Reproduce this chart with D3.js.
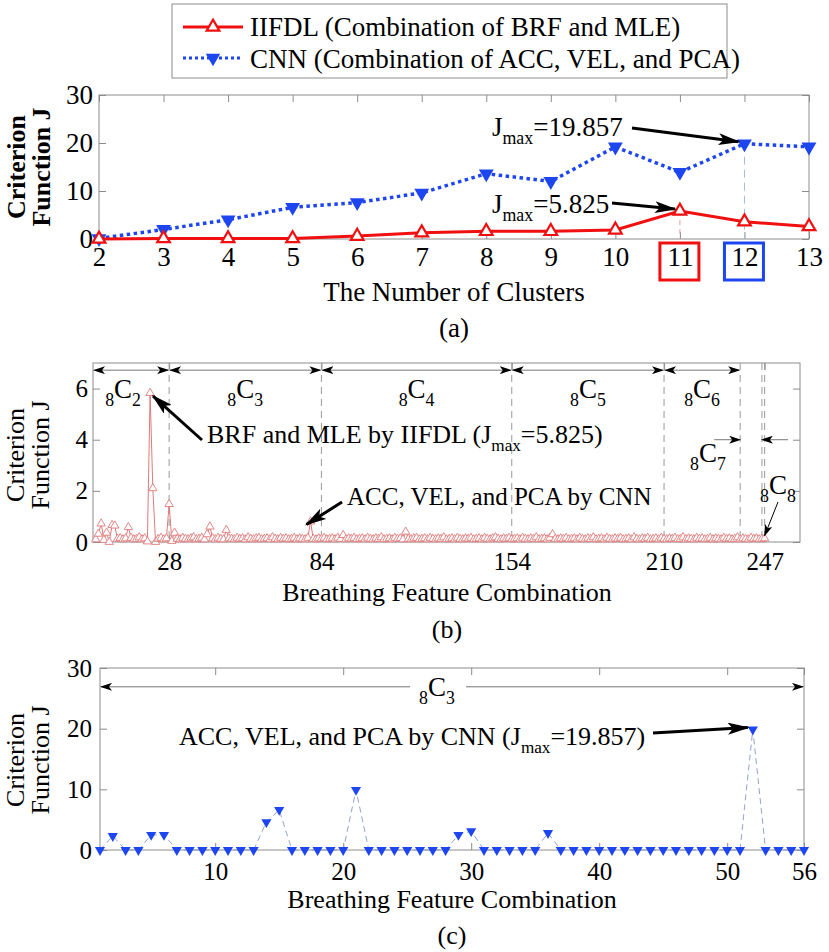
<!DOCTYPE html>
<html>
<head>
<meta charset="utf-8">
<script src="https://cdn.jsdelivr.net/npm/d3@7"></script>
<style>
  body { margin: 0; background: #fff; }
  svg text { font-family: "Liberation Serif", "Times New Roman", "DejaVu Serif", serif; fill: #000; }
</style>
</head>
<body>
<svg id="fig" width="829" height="952"></svg>
<script>
// (a) criterion function vs number of clusters
const clusters = [2, 3, 4, 5, 6, 7, 8, 9, 10, 11, 12, 13];
const iifdlJ = [0, 0.1, 0.1, 0.1, 0.6, 1.3, 1.6, 1.6, 1.9, 5.825, 3.6, 2.6];
const cnnJ = [0.1, 2.0, 4.0, 6.6, 7.6, 9.6, 13.6, 12.0, 19.2, 13.9, 19.857, 19.2];

// (b) all 247 breathing feature combinations (IIFDL)
const combJ = [
  0.10, 0.32, 0.72, 0.08, 0.36, 0.00, 0.66, 0.64, 0.12, 0.15,
  0.10, 0.14, 0.58, 0.16, 0.10, 0.12, 0.18, 0.10, 0.14, 0.02,
  5.825, 2.10, 0.00, 0.12, 0.16, 0.10, 0.14, 1.48, 0.04, 0.36,
  0.12, 0.10, 0.16, 0.12, 0.10, 0.14, 0.18, 0.10, 0.12, 0.16,
  0.10, 0.30, 0.60, 0.14, 0.10, 0.16, 0.12, 0.10, 0.47, 0.14,
  0.12, 0.10, 0.16, 0.12, 0.14, 0.10, 0.18, 0.12, 0.10, 0.14,
  0.16, 0.10, 0.12, 0.14, 0.10, 0.18, 0.12, 0.10, 0.16, 0.12,
  0.14, 0.10, 0.12, 0.16, 0.10, 0.14, 0.12, 0.10, 0.16, 0.80,
  0.12, 0.10, 0.14, 0.12, 0.16, 0.10, 0.12, 0.14, 0.10, 0.16,
  0.12, 0.27, 0.10, 0.14, 0.12, 0.16, 0.10, 0.12, 0.14, 0.10,
  0.16, 0.12, 0.10, 0.14, 0.12, 0.18, 0.10, 0.12, 0.14, 0.10,
  0.16, 0.12, 0.14, 0.10, 0.40, 0.12, 0.10, 0.14, 0.16, 0.10,
  0.12, 0.14, 0.10, 0.16, 0.12, 0.10, 0.14, 0.12, 0.18, 0.10,
  0.12, 0.14, 0.10, 0.16, 0.12, 0.10, 0.14, 0.12, 0.16, 0.10,
  0.12, 0.14, 0.10, 0.16, 0.12, 0.10, 0.14, 0.18, 0.12, 0.10,
  0.14, 0.12, 0.16, 0.10, 0.12, 0.14, 0.10, 0.16, 0.12, 0.10,
  0.14, 0.12, 0.18, 0.10, 0.12, 0.14, 0.10, 0.16, 0.30, 0.12,
  0.10, 0.14, 0.12, 0.16, 0.10, 0.12, 0.14, 0.10, 0.16, 0.12,
  0.10, 0.14, 0.12, 0.18, 0.10, 0.12, 0.14, 0.10, 0.16, 0.12,
  0.10, 0.14, 0.12, 0.16, 0.10, 0.12, 0.14, 0.10, 0.18, 0.12,
  0.10, 0.14, 0.12, 0.16, 0.10, 0.12, 0.14, 0.10, 0.16, 0.12,
  0.10, 0.14, 0.12, 0.16, 0.10, 0.12, 0.18, 0.10, 0.14, 0.12,
  0.10, 0.16, 0.12, 0.14, 0.10, 0.12, 0.16, 0.10, 0.14, 0.12,
  0.10, 0.16, 0.12, 0.14, 0.10, 0.12, 0.18, 0.10, 0.14, 0.12,
  0.10, 0.16, 0.12, 0.14, 0.10, 0.12, 0.14
];
const groupK = ['2', '3', '4', '5', '6', '7', '8'];
const groupEnds = [28, 84, 154, 210, 238, 246, 247];
const bTicks = [28, 84, 154, 210, 247];

// (c) the 56 combinations of 8C3 (CNN)
const c3J = [
  0, 2.3, 0, 0, 2.5, 2.5, 0, 0, 0, 0,
  0, 0, 0, 4.6, 6.6, 0, 0, 0, 0, 0,
  9.9, 0, 0, 0, 0, 0, 0, 0, 2.5, 3.1,
  0, 0, 0, 0, 0, 2.8, 0, 0, 0, 0,
  0, 0, 0, 0, 0, 0, 0, 0, 0, 0,
  0, 19.857, 0, 0, 0, 0
];
const cTicks = [10, 20, 30, 40, 50, 56];

const FONT = '"Liberation Serif", "Times New Roman", "DejaVu Serif", serif';
const RED = '#f01010', BLUE = '#1e46f0', GREY = '#8c8c8c';
const svg = d3.select('#fig');

const defs = svg.append('defs');
defs.append('marker').attr('id', 'bigHead').attr('markerUnits', 'userSpaceOnUse')
  .attr('markerWidth', 22).attr('markerHeight', 12).attr('refX', 20).attr('refY', 6).attr('orient', 'auto')
  .append('path').attr('d', 'M0,0 L22,6 L0,12 L5,6 Z').attr('fill', '#000');
defs.append('marker').attr('id', 'smallHead').attr('markerUnits', 'userSpaceOnUse')
  .attr('markerWidth', 12).attr('markerHeight', 8).attr('refX', 11).attr('refY', 4).attr('orient', 'auto-start-reverse')
  .append('path').attr('d', 'M0,0 L12,4 L0,8 L3,4 Z').attr('fill', '#000');

function frame(x, y, xt, yt, fs, padX, padY) {
  const [x0, x1] = x.range(), [y0, y1] = y.range();
  const g = svg.append('g');
  const style = a => a.call(s => s.selectAll('.domain').remove()).call(s => s.selectAll('line').attr('stroke', GREY));
  g.append('g').attr('transform', `translate(0,${y0})`)
    .call(d3.axisBottom(x).tickValues(xt).tickSize(-7).tickPadding(padX).tickFormat(d3.format('d'))).call(style)
    .selectAll('text').style('font-size', fs + 'px').style('font-family', FONT);
  g.append('g').attr('transform', `translate(0,${y1})`)
    .call(d3.axisTop(x).tickValues(xt).tickSize(-7).tickFormat('')).call(style);
  g.append('g').attr('transform', `translate(${x0},0)`)
    .call(d3.axisLeft(y).tickValues(yt).tickSize(-7).tickPadding(padY).tickFormat(d3.format('d'))).call(style)
    .selectAll('text').style('font-size', fs + 'px').style('font-family', FONT);
  g.append('g').attr('transform', `translate(${x1},0)`)
    .call(d3.axisRight(y).tickValues(yt).tickSize(-7).tickFormat('')).call(style);
  g.append('rect').attr('x', x0).attr('y', y1).attr('width', x1 - x0).attr('height', y0 - y1)
    .attr('fill', 'none').attr('stroke', GREY).attr('stroke-width', 1);
  return g;
}

function yTitle(cx, cy, fs, bold) {
  const t = svg.append('text').attr('transform', `translate(${cx},${cy}) rotate(-90)`)
    .attr('text-anchor', 'middle').style('font-family', FONT).style('font-size', fs + 'px')
    .style('font-weight', bold ? 'bold' : 'normal');
  t.append('tspan').attr('x', 0).attr('dy', 0).text('Criterion');
  t.append('tspan').attr('x', 0).attr('dy', fs * 0.95).text('Function J');
}

function plainText(x, y, fs, str, anchor) {
  return svg.append('text').attr('x', x).attr('y', y).attr('text-anchor', anchor || 'middle')
    .style('font-family', FONT).style('font-size', fs + 'px').text(str);
}

// text like "J_max=5.825" or "8C3" with real subscripts
function richText(x, y, fs, parts, anchor) {
  const t = svg.append('text').attr('x', x).attr('y', y).attr('text-anchor', anchor || 'start')
    .style('font-family', FONT).style('font-size', fs + 'px');
  let shift = 0;
  parts.forEach(([str, sub]) => {
    const dy = sub ? fs * 0.3 : 0;
    t.append('tspan').attr('dy', dy - shift).style('font-size', (sub ? fs * 0.66 : fs) + 'px').text(str);
    shift = dy;
  });
  return t;
}

function arrow(x1, y1, x2, y2, w, head, color) {
  svg.append('line').attr('x1', x1).attr('y1', y1).attr('x2', x2).attr('y2', y2)
    .attr('stroke', color || '#000').attr('stroke-width', w).attr('marker-end', `url(#${head})`);
}

const triUp = d3.symbol().type(d3.symbolTriangle);

/* ---------- legend ---------- */
svg.append('rect').attr('x', 172).attr('y', 4).attr('width', 555).attr('height', 74)
  .attr('fill', '#fff').attr('stroke', GREY);
svg.append('line').attr('x1', 183).attr('x2', 243).attr('y1', 27).attr('y2', 27).attr('stroke', RED).attr('stroke-width', 3);
svg.append('path').attr('d', triUp.size(70)()).attr('transform', 'translate(213,27)')
  .attr('fill', '#fff').attr('stroke', RED).attr('stroke-width', 2.2);
svg.append('line').attr('x1', 183).attr('x2', 243).attr('y1', 58).attr('y2', 58).attr('stroke', BLUE)
  .attr('stroke-width', 3).attr('stroke-dasharray', '3,3');
svg.append('path').attr('d', triUp.size(90)()).attr('transform', 'translate(213,58) rotate(180)').attr('fill', BLUE);
plainText(250, 36, 27, 'IIFDL (Combination of BRF and MLE)', 'start');
plainText(250, 68, 27, 'CNN (Combination of ACC, VEL, and PCA)', 'start');

/* ---------- (a) ---------- */
const xa = d3.scaleLinear().domain([2, 13]).range([99, 809]);
const ya = d3.scaleLinear().domain([0, 30]).range([239, 95]);
frame(xa, ya, clusters, [0, 10, 20, 30], 27, 8, 6);
yTitle(25, 167, 26, true);

svg.append('line').attr('x1', xa(11)).attr('x2', xa(11)).attr('y1', ya(iifdlJ[9])).attr('y2', ya(0))
  .attr('stroke', '#e89a9a').attr('stroke-dasharray', '5,4');
svg.append('line').attr('x1', xa(12)).attr('x2', xa(12)).attr('y1', ya(cnnJ[10])).attr('y2', ya(0))
  .attr('stroke', '#a8b8e0').attr('stroke-dasharray', '8,5');

const lineA = d3.line().x((d, i) => xa(clusters[i])).y(d => ya(d));
svg.append('path').attr('d', lineA(cnnJ)).attr('fill', 'none').attr('stroke', BLUE)
  .attr('stroke-width', 3.5).attr('stroke-dasharray', '3.5,3.5');
svg.append('path').attr('d', lineA(iifdlJ)).attr('fill', 'none').attr('stroke', RED).attr('stroke-width', 3);
svg.append('g').selectAll('path').data(cnnJ).join('path')
  .attr('d', triUp.size(95)()).attr('transform', (d, i) => `translate(${xa(clusters[i])},${ya(d)}) rotate(180)`)
  .attr('fill', BLUE);
svg.append('g').selectAll('path').data(iifdlJ).join('path')
  .attr('d', triUp.size(70)()).attr('transform', (d, i) => `translate(${xa(clusters[i])},${ya(d)})`)
  .attr('fill', '#fff').attr('stroke', RED).attr('stroke-width', 2.2);

svg.append('rect').attr('x', xa(11) - 20).attr('y', 243).attr('width', 39).attr('height', 37)
  .attr('fill', 'none').attr('stroke', RED).attr('stroke-width', 3);
svg.append('rect').attr('x', xa(12) - 20).attr('y', 243).attr('width', 39).attr('height', 37)
  .attr('fill', 'none').attr('stroke', BLUE).attr('stroke-width', 3);

richText(492, 136, 27, [['J'], ['max', true], ['=19.857']]);
arrow(632, 128, xa(12) - 6, ya(cnnJ[10]) - 2, 3, 'bigHead');
richText(492, 213, 27, [['J'], ['max', true], ['=5.825']]);
arrow(612, 203, xa(11) - 5, ya(iifdlJ[9]) - 2, 3, 'bigHead');

plainText(454, 301, 27, 'The Number of Clusters');
plainText(454, 337, 27, '(a)');

/* ---------- (b) ---------- */
const xb = d3.scaleLinear().domain([0, 260]).range([93, 800]);
const yb = d3.scaleLinear().domain([0, 7]).range([542, 363]);
frame(xb, yb, bTicks, [0, 2, 4, 6], 25, 10, 5);
yTitle(24, 455, 26, false);

svg.append('g').selectAll('line').data(groupEnds).join('line')
  .attr('x1', d => xb(d)).attr('x2', d => xb(d)).attr('y1', yb(7)).attr('y2', yb(0))
  .attr('stroke', '#999').attr('stroke-dasharray', '7,5');

const lineB = d3.line().x((d, i) => xb(i + 1)).y(d => yb(d));
svg.append('path').attr('d', lineB(combJ)).attr('fill', 'none').attr('stroke', '#e07a7a').attr('stroke-width', 1);
svg.append('g').selectAll('path').data(combJ).join('path')
  .attr('d', triUp.size(30)()).attr('transform', (d, i) => `translate(${xb(i + 1)},${yb(d)})`)
  .attr('fill', '#fff').attr('stroke', '#e07a7a').attr('stroke-width', 0.9);

// group spans along the top
const starts = [0].concat(groupEnds.slice(0, -1));
const arrowY = yb(6.72);
starts.slice(0, 5).forEach((s, i) => {
  svg.append('line').attr('x1', xb(s) + 1).attr('x2', xb(groupEnds[i]) - 1).attr('y1', arrowY).attr('y2', arrowY)
    .attr('stroke', '#777').attr('stroke-width', 1)
    .attr('marker-start', 'url(#smallHead)').attr('marker-end', 'url(#smallHead)');
  const cx = (xb(s) + xb(groupEnds[i])) / 2 - (i === 0 ? 8 : 0);
  richText(cx, 398, 27, [['8', true], ['C'], [groupK[i], true]], 'middle');
});
arrow(xb(238) - 26, yb(4), xb(238), yb(4), 1, 'smallHead', '#777');
arrow(xb(246) + 26, yb(4), xb(246), yb(4), 1, 'smallHead', '#777');
richText(708, 462, 27, [['8', true], ['C'], ['7', true]], 'middle');
richText(778, 494, 27, [['8', true], ['C'], ['8', true]], 'middle');
arrow(778, 502, xb(247), yb(0.25), 1, 'smallHead', '#000');

richText(207, 443, 26, [['BRF and MLE by IIFDL (J'], ['max', true], ['=5.825)']]);
arrow(202, 440, xb(21) + 3, yb(combJ[20]) + 3, 3, 'bigHead');
plainText(347, 505, 25, 'ACC, VEL, and PCA by CNN', 'start');
arrow(342, 502, xb(80) - 4, yb(combJ[79]) + 3, 3, 'bigHead');

plainText(447, 601, 26, 'Breathing Feature Combination');
plainText(447, 638, 26, '(b)');

/* ---------- (c) ---------- */
const xc = d3.scaleLinear().domain([1, 56]).range([100, 804]);
const yc = d3.scaleLinear().domain([0, 30]).range([850, 668]);
frame(xc, yc, cTicks, [0, 10, 20, 30], 25, 12, 8);
yTitle(24, 760, 26, false);

const lineC = d3.line().x((d, i) => xc(i + 1)).y(d => yc(d));
svg.append('path').attr('d', lineC(c3J)).attr('fill', 'none').attr('stroke', '#8a96c8')
  .attr('stroke-width', 0.9).attr('stroke-dasharray', '6,4');
svg.append('g').selectAll('path').data(c3J).join('path')
  .attr('d', triUp.size(45)()).attr('transform', (d, i) => `translate(${xc(i + 1)},${yc(d)}) rotate(180)`)
  .attr('fill', BLUE);

const c3Y = yc(26.9);
svg.append('line').attr('x1', 410).attr('x2', xc(1) + 1).attr('y1', c3Y).attr('y2', c3Y)
  .attr('stroke', '#777').attr('marker-end', 'url(#smallHead)');
svg.append('line').attr('x1', 466).attr('x2', xc(56) - 1).attr('y1', c3Y).attr('y2', c3Y)
  .attr('stroke', '#777').attr('marker-end', 'url(#smallHead)');
richText(437, 696, 27, [['8', true], ['C'], ['3', true]], 'middle');

richText(179, 745, 26, [['ACC, VEL, and PCA by CNN (J'], ['max', true], ['=19.857)']]);
arrow(653, 733, xc(52) - 5, yc(c3J[51]) - 2, 3, 'bigHead');

plainText(452, 908, 26, 'Breathing Feature Combination');
plainText(452, 944, 26, '(c)');
</script>
</body>
</html>
